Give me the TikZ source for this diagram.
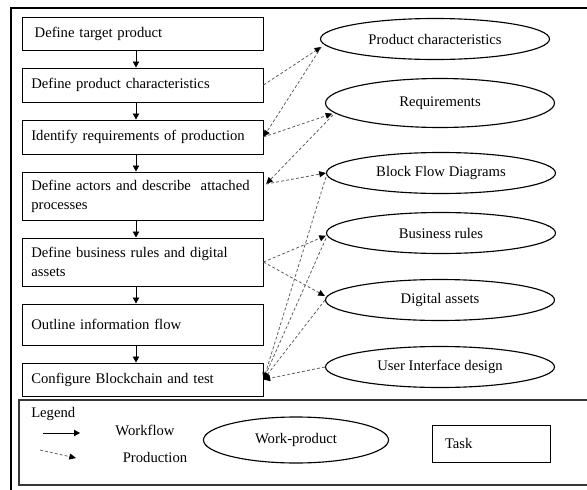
\documentclass[tikz,border=0pt]{standalone}
\usepackage{fontspec}
\setmainfont{Liberation Serif}
\usetikzlibrary{arrows.meta, positioning, shapes.geometric}
\definecolor{prodgray}{RGB}{95,95,95}
\definecolor{framegray}{RGB}{55,55,55}

\begin{document}
\begin{tikzpicture}[
    x=0.75pt, y=-0.75pt,
    font=\fontsize{11}{14.25}\selectfont,
    task/.style={draw, line width=0.75pt, minimum width=180.75pt, text width=166.75pt,
                 align=left, inner xsep=7pt, inner ysep=2pt},
    work/.style={draw, ellipse, line width=0.85pt, minimum width=171.75pt,
                 minimum height=30.75pt, inner sep=0pt},
    arr/.style={-{Triangle[length=4.5pt,width=4.8pt]}, line width=0.6pt},
    darr/.style={-{Triangle[length=5pt,width=4.5pt,color=black]}, line width=0.6pt,
                 prodgray, dash pattern=on 2.2pt off 1.6pt},
    frm/.style={line width=1.1pt, framegray},
]
\useasboundingbox (0,0) rectangle (587,490);

% outer frame
\draw[frm, black] (587,8) -- (11,8) -- (11,490);

% tasks
\node[task, minimum height=24.75pt] (t1) at (142.5,33.5) {\hspace{2.5pt}Define target product};
\node[task, minimum height=25.5pt, below=12.75pt of t1] (t2) {Define product characteristics};
\node[task, minimum height=25.5pt, below=12.75pt of t2] (t3) {Identify requirements of production};
\node[task, minimum height=36pt, below=12.75pt of t3] (t4)
    {Define actors and describe \ attached\\processes};
\node[task, minimum height=36pt, below=12.75pt of t4] (t5)
    {Define business rules and digital\\assets};
\node[task, minimum height=30.75pt, below=12.75pt of t5] (t6) {Outline information flow};
\node[task, minimum height=24.75pt, below=12.75pt of t6] (t7) {Configure Blockchain and test};

% work-products
\node[work] (pc) at (435,39) {Product characteristics};
\node[work, minimum height=36.75pt] (req) at (440,103) {Requirements};
\node[work] (bfd) at (441,173) {Block Flow Diagrams};
\node[work] (br) at (441,233) {Business rules};
\node[work] (da) at (440,300) {Digital assets};
\node[work] (ui) at (440,367) {User Interface design};

% workflow
\coordinate (flowx) at (136,0);
\draw[arr] (t1.south -| flowx) -- (t2.north -| flowx);
\draw[arr] (t2.south -| flowx) -- (t3.north -| flowx);
\draw[arr] (t3.south -| flowx) -- (t4.north -| flowx);
\draw[arr] (t4.south -| flowx) -- (t5.north -| flowx);
\draw[arr] (t5.south -| flowx) -- (t6.north -| flowx);
\draw[arr] (t6.south -| flowx) -- (t7.north -| flowx);

% production
\draw[darr] (t2.east) -- ([xshift=1pt,yshift=-6pt]pc.west);
\draw[darr] ([xshift=1pt,yshift=-6pt]pc.west) -- (t3.east);
\draw[darr] (t3.east) -- ([xshift=5.5pt,yshift=-8pt]req.west);
\draw[darr] ([xshift=6pt,yshift=-9pt]req.west) -- ([xshift=2pt,yshift=9pt]t4.east);
\draw[darr] ([xshift=2pt,yshift=9pt]t4.east) -- (bfd.west);
\draw[darr] ([yshift=-3pt]bfd.west) -- (t7.east);
\draw[darr] (t5.east) -- ([yshift=-2pt]br.west);
\draw[darr] (t5.east) -- ([yshift=3pt]da.west);
\draw[darr] ([yshift=-4pt]br.west) -- (t7.east);
\draw[darr] (da.west) -- (t7.east);
\draw[darr] (ui.west) -- (t7.east);

% legend
\draw[frm] (587,400) -- (19,400) -- (19,485) -- (587,485);
\node[anchor=west, inner sep=0pt] (lgd) at (31,414) {Legend};
\coordinate (wfa) at (43,433);
\coordinate (wfb) at (80,433);
\draw[arr] (wfa) -- (wfb);
\node (wf) at (145,430) {Workflow};
\coordinate (pra) at (40,450);
\coordinate (prb) at (76,458);
\draw[darr] (pra) -- (prb);
\node (pr) at (155,457) {Production};
\node[work, minimum width=138.75pt, minimum height=34.5pt] (wp) at (296,440) {Work-product};
\node[task, minimum width=88.5pt, text width=69pt, minimum height=27.75pt,
      inner xsep=9.75pt] (tk) at (491,443.5) {Task};

\end{tikzpicture}
\end{document}
